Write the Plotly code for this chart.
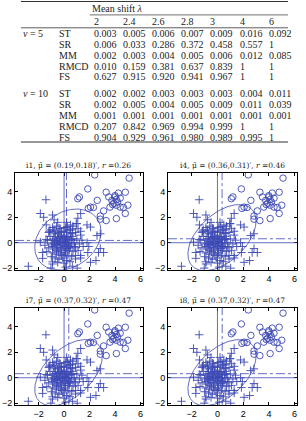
import plotly.graph_objects as go
import numpy as np

# ---------------- table data ----------------
shift_labels = ["2", "2.4", "2.6", "2.8", "3", "4", "6"]
methods = ["ST", "SR", "MM", "RMCD", "FS"]
nu_labels = ["<i>ν</i> = 5", "<i>ν</i> = 10"]
vals_nu5 = [
    ["0.003", "0.005", "0.006", "0.007", "0.009", "0.016", "0.092"],
    ["0.006", "0.033", "0.286", "0.372", "0.458", "0.557", "1"],
    ["0.002", "0.003", "0.004", "0.005", "0.006", "0.012", "0.085"],
    ["0.010", "0.159", "0.381", "0.637", "0.839", "1", "1"],
    ["0.627", "0.915", "0.920", "0.941", "0.967", "1", "1"],
]
vals_nu10 = [
    ["0.002", "0.002", "0.003", "0.003", "0.003", "0.004", "0.011"],
    ["0.002", "0.005", "0.004", "0.005", "0.009", "0.011", "0.039"],
    ["0.001", "0.001", "0.001", "0.001", "0.001", "0.001", "0.001"],
    ["0.207", "0.842", "0.969", "0.994", "0.999", "1", "1"],
    ["0.904", "0.929", "0.961", "0.980", "0.989", "0.995", "1"],
]

# ---------------- scatter data (same points in every panel) ----------------
plus_x = [-1.42, -1.86, -1.6, -0.9, -0.78, 1.08, 1.3, 0.5, 1.8, 2.07, 1.0, -1.16, -0.78, -0.39, 0.26, 0.65,
          1.3, 2.58, 2.84, -1.86, -1.42, 1.8, 1.94, 2.84, 3.1, 2.7, 1.86, 1.3, 0.9, 0.46, -0.5, -0.9, -1.68,
          -1.68, -2.8, -1.03, 0.13, 0.65, 1.03, 2.5, 2.07,
          -0.9, -0.6, -0.3, 0.1, 0.4, 0.7, 1.1, -1.2, -0.8, -0.5, -0.2, 0.2, 0.5, 0.9, 1.3, -1.1, -0.7, -0.4,
          0.0, 0.3, 0.6, 1.0, -1.3, -0.9, -0.6, -0.3, 0.1, 0.4, 0.8, 1.2, -1.0, -0.7, -0.4, -0.1, 0.2, 0.5,
          0.9, -1.2, -0.8, -0.5, -0.2, 0.1, 0.4, 0.7, 1.1, -0.9, -0.6, -0.3, 0.0, 0.3, 0.6, -0.7, -0.4, -0.1,
          0.2, -1.0, 0.9, -0.5, -0.2, 0.0, -0.3, 0.3, -0.6, 0.2, -0.8, 0.6, -0.1, 0.4, -0.4, 0.1, -0.9, 0.7,
          -0.2, 0.5, -0.7, 0.0, -1.1, 0.8, -0.35, 0.05, -0.15, 0.15, -0.55, 0.35, -0.25, 0.25, -0.45, 0.55,
          -0.75, 0.65, -1.35, 1.4, 0.95, -0.5, 0.2, -1.4, 1.5, -1.5, 0.0, -0.9, 1.3]
plus_y = [3.38, 2.3, 2.0, 2.18, 1.8, 1.92, 2.3, 1.4, 1.4, 1.23, 1.5, 0.9, 1.0, 1.15, 1.28, 1.08,
          0.9, 0.56, 0.7, 0.05, 0.26, 0.0, -0.3, -0.46, -0.77, -0.77, -0.77, -1.0, -1.28, -1.49, -1.54, -1.67,
          -1.23, -0.77, -1.85, -2.0, -1.92, -1.85, -2.0, -1.4, -1.54,
          1.2, 1.3, 1.1, 1.2, 1.0, 1.3, 1.1, 0.8, 0.9, 0.7, 0.9, 0.8, 0.7, 0.8, 0.6, 0.5, 0.5, 0.4,
          0.5, 0.4, 0.5, 0.3, 0.2, 0.2, 0.1, 0.2, 0.1, 0.2, 0.0, -0.1, -0.1, -0.2, -0.1, -0.2, -0.1, -0.3,
          -0.4, -0.4, -0.5, -0.4, -0.5, -0.6, -0.6, -0.7, -0.6, -0.8, -0.9, -0.8, -0.9, -1.0, -1.1, -1.2, -1.3,
          -1.2, -1.4, -1.1, -1.0, 0.3, 0.6, -0.3, -0.4, 0.0, -0.6, 0.5, 0.3, -0.1, 0.3, -0.4, 0.8, -0.8, -0.3,
          0.3, -1.0, 1.0, 0.7, 0.9, 1.0, -0.3, 0.05, 0.05, -0.05, 0.3, -0.15, -0.25, 0.45, -0.45, -0.7, 0.25,
          -0.05, 0.75, -0.7, 0.2, 1.5, 1.6, 1.6, 1.4, -0.3, -0.2, -1.6, -1.5, -1.2]
circ_x = [2.4, 5.1, 1.86, 3.3, 1.08, 1.2, 3.99, 4.26, 4.8, 3.75, 4.1, 4.4, 4.0, 2.6, 2.07, 2.3, 1.9, 3.1,
          3.6, 4.1, 4.4, 5.0, 2.84, 3.3, 4.1, 4.8, 4.65, 2.84, 3.9, 3.5, 4.2, 3.8]
circ_y = [5.33, 5.08, 4.23, 3.97, 3.46, 3.6, 3.7, 3.9, 3.97, 3.33, 3.4, 3.5, 3.6, 3.33, 2.8, 2.77, 2.7, 2.5,
          2.8, 2.95, 2.8, 2.95, 2.1, 1.74, 1.9, 2.3, 2.77, 1.85, 3.1, 3.6, 3.2, 3.0]

# ---------------- panel parameters ----------------
panel_ids = ["i1", "i4", "i7", "i8"]
mu_x = [0.19, 0.36, 0.37, 0.37]
mu_y = [0.18, 0.31, 0.32, 0.32]
r_vals = [0.26, 0.46, 0.47, 0.47]
ell_cx = [0.3, 0.35, 0.35, 0.35]
ell_cy = [0.25, 0.4, 0.4, 0.4]
ell_a = [2.6, 2.65, 2.65, 2.65]
ell_b = [2.4, 2.6, 2.6, 2.6]
ell_r = [0.26, 0.5, 0.5, 0.5]
x_ticks = [-2, 0, 2, 4, 6]
y_ticks = [-2, 0, 2, 4]

W, H = 306, 421
BLUE = "rgb(60,72,180)"
def fx(p): return p / W
def fy(p): return 1 - p / H

fig = go.Figure()

# panel pixel boxes (left, right, top, bottom)
boxes = [(15, 143, 174, 272), (168.5, 297.5, 174, 272), (15, 143, 310, 408), (168.5, 297.5, 310, 408)]
XR = [-3.85, 6.15]
YR = [-2.15, 5.5]

t = np.linspace(0, 2 * np.pi, 200)
shapes = []
annotations = []
for i, (l, r, tp, b) in enumerate(boxes):
    xa = "x" if i == 0 else f"x{i+1}"
    ya = "y" if i == 0 else f"y{i+1}"
    fig.add_trace(go.Scatter(x=plus_x, y=plus_y, mode="markers", xaxis=xa, yaxis=ya,
                             marker=dict(symbol="cross-thin", size=6, line=dict(color=BLUE, width=0.9)),
                             showlegend=False, hoverinfo="skip"))
    fig.add_trace(go.Scatter(x=circ_x, y=circ_y, mode="markers", xaxis=xa, yaxis=ya,
                             marker=dict(symbol="circle-open", size=6.5, color=BLUE, line=dict(color=BLUE, width=0.9)),
                             showlegend=False, hoverinfo="skip"))
    ex = ell_cx[i] + ell_a[i] * np.cos(t)
    ey = ell_cy[i] + ell_b[i] * (ell_r[i] * np.cos(t) + np.sqrt(1 - ell_r[i] ** 2) * np.sin(t))
    fig.add_trace(go.Scatter(x=ex, y=ey, mode="lines", xaxis=xa, yaxis=ya,
                             line=dict(color=BLUE, width=0.8), showlegend=False, hoverinfo="skip"))
    axk = "xaxis" if i == 0 else f"xaxis{i+1}"
    ayk = "yaxis" if i == 0 else f"yaxis{i+1}"
    common = dict(showgrid=False, zeroline=False, showline=True, linecolor="black", linewidth=1,
                  mirror="ticks", ticks="inside", ticklen=3, tickcolor="black",
                  tickfont=dict(family="Liberation Sans", size=9, color="black"))
    fig.update_layout(**{
        axk: dict(domain=[fx(l), fx(r)], range=XR, tickvals=x_ticks, anchor=ya, **common),
        ayk: dict(domain=[fy(b), fy(tp)], range=YR, tickvals=y_ticks, anchor=xa, **common),
    })
    shapes.append(dict(type="line", xref=xa, yref=f"{ya} domain", x0=0, x1=0, y0=0, y1=1,
                       line=dict(color=BLUE, width=0.8)))
    shapes.append(dict(type="line", xref=f"{xa} domain", yref=ya, x0=0, x1=1, y0=0, y1=0,
                       line=dict(color=BLUE, width=0.8)))
    shapes.append(dict(type="line", xref=xa, yref=f"{ya} domain", x0=mu_x[i], x1=mu_x[i], y0=0, y1=1,
                       line=dict(color=BLUE, width=0.8, dash="dashdot")))
    shapes.append(dict(type="line", xref=f"{xa} domain", yref=ya, x0=0, x1=1, y0=mu_y[i], y1=mu_y[i],
                       line=dict(color=BLUE, width=0.8, dash="dashdot")))
    title = (f"{panel_ids[i]}, \u03bc\u0303 = ({mu_x[i]:.2f},{mu_y[i]:.2f})\u2032, <i>r</i> ={r_vals[i]:.2f}")
    annotations.append(dict(text=title, xref="paper", yref="paper", x=fx((l + r) / 2), y=fy(tp - 7),
                            xanchor="center", yanchor="middle", showarrow=False,
                            font=dict(family="DejaVu Serif", size=7.5, color="#222")))

# ---------------- table ----------------
TF = dict(family="Liberation Serif", size=10, color="#222")
col_x = [92, 121, 150, 180, 209, 239, 268]
def txt(s, x, y):
    annotations.append(dict(text=s, xref="paper", yref="paper", x=fx(x), y=fy(y), xanchor="left",
                            yanchor="middle", showarrow=False, font=TF))
txt("Mean shift <i>λ</i>", 90, 8.5)
for j, s in enumerate(shift_labels):
    txt(s, col_x[j], 21.5)
row_y = [[33.5, 44.5, 55.5, 66.5, 77.5], [94, 105, 116, 127, 138]]
for blk, vals in enumerate([vals_nu5, vals_nu10]):
    txt(nu_labels[blk], 21, row_y[blk][0])
    for k, m in enumerate(methods):
        txt(m, 57, row_y[blk][k])
        for j, v in enumerate(vals[k]):
            txt(v, col_x[j], row_y[blk][k])

for (x0, x1, y, w) in [(21, 289, 1.5, 1.2), (90, 289, 15, 0.7), (21, 289, 28, 0.8), (21, 289, 143, 1.2)]:
    shapes.append(dict(type="line", xref="paper", yref="paper", x0=fx(x0), x1=fx(x1), y0=fy(y), y1=fy(y),
                       line=dict(color="#333", width=w)))

fig.update_layout(width=W, height=H, margin=dict(l=0, r=0, t=0, b=0), paper_bgcolor="white",
                  plot_bgcolor="white", shapes=shapes, annotations=annotations)
fig.write_html("out.html")
